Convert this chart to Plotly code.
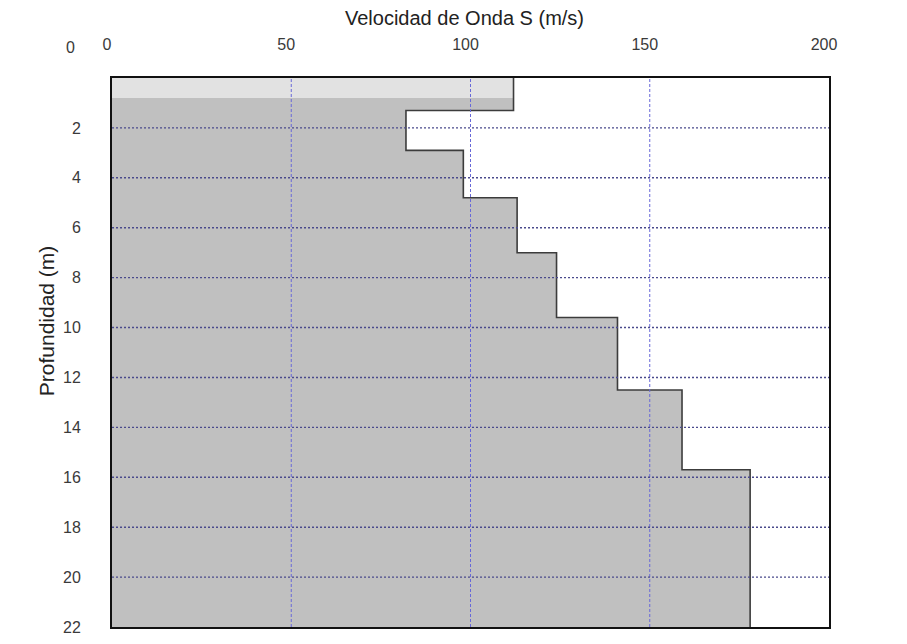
import plotly.graph_objects as go

# Perfil de velocidad de onda S por estratos
layer_top = [0.0, 1.3, 2.9, 4.8, 7.0, 9.6, 12.5, 15.7]
layer_bottom = [1.3, 2.9, 4.8, 7.0, 9.6, 12.5, 15.7, 22.0]
vs = [112, 82, 98, 113, 124, 141, 159, 178]

# Capa superficial (relleno)
fill_top = 0.0
fill_bottom = 0.8

x_ticks = [0, 50, 100, 150, 200]
y_ticks = [0, 2, 4, 6, 8, 10, 12, 14, 16, 18, 20, 22]

x_range = [0, 200]
depth_max = 22

# Contorno escalonado del perfil
step_x, step_y = [], []
for top, bot, v in zip(layer_top, layer_bottom, vs):
    step_x += [v, v]
    step_y += [top, bot]

poly_x = [0] + step_x + [0, 0]
poly_y = [layer_top[0]] + step_y + [layer_bottom[-1], layer_top[0]]

TICK_FONT = dict(family="Liberation Sans Narrow, Arial Narrow, Liberation Sans, Arial",
                 size=16, color="#3a3a3a")
TITLE_FONT = dict(family="Liberation Sans, Arial", size=20, color="#222222")

fig = go.Figure()

fig.add_trace(go.Scatter(
    x=poly_x, y=poly_y, mode="lines", fill="toself",
    fillcolor="#c0c0c0", line=dict(width=0), hoverinfo="skip", showlegend=False,
))

fig.add_trace(go.Scatter(
    x=[0, vs[0], vs[0], 0, 0],
    y=[fill_top, fill_top, fill_bottom, fill_bottom, fill_top],
    mode="lines", fill="toself", fillcolor="#e2e2e2",
    line=dict(width=0), hoverinfo="skip", showlegend=False,
))

fig.add_trace(go.Scatter(
    x=step_x, y=step_y, mode="lines",
    line=dict(color="#3c3c3c", width=1.6), hoverinfo="skip", showlegend=False,
))

# Rejilla punteada sobre el relleno
for v in x_ticks[1:-1]:
    fig.add_vline(x=v, layer="above",
                  line=dict(color="#6868d8", width=1, dash="3px,2px"))
for d in y_ticks[1:-1]:
    fig.add_hline(y=d, layer="above",
                  line=dict(color="#4a4a8c", width=1.4, dash="2px,2px"))

fig.update_xaxes(
    range=x_range, side="top", tickvals=x_ticks,
    ticktext=[str(t) for t in x_ticks],
    showgrid=False, zeroline=False, ticks="",
    showline=True, mirror=True, linecolor="#111111", linewidth=2,
    tickfont=TICK_FONT, ticklabelstandoff=20, ticklabelshift=-5,
)
fig.update_yaxes(
    range=[depth_max, 0], tickvals=y_ticks[1:],
    ticktext=[str(t) for t in y_ticks[1:]],
    showgrid=False, zeroline=False, ticks="",
    showline=True, mirror=True, linecolor="#111111", linewidth=2,
    tickfont=TICK_FONT, ticklabelstandoff=26,
)

fig.add_annotation(
    text=str(y_ticks[0]), xref="paper", yref="paper",
    x=-0.058, y=1.0556, showarrow=False, font=TICK_FONT,
    xanchor="center", yanchor="middle",
)
fig.add_annotation(
    text="Velocidad de Onda S (m/s)", xref="paper", yref="paper",
    x=0.491, y=1.109, showarrow=False, font=TITLE_FONT,
    xanchor="center", yanchor="middle",
)
fig.add_annotation(
    text="Profundidad (m)", xref="paper", yref="paper",
    x=-0.092, y=0.557, textangle=-90, showarrow=False,
    font=dict(family="Liberation Sans, Arial", size=21, color="#222222"),
    xanchor="center", yanchor="middle",
)

fig.update_layout(
    width=907, height=644,
    margin=dict(l=112, r=78, t=78, b=8),
    paper_bgcolor="white", plot_bgcolor="white",
    showlegend=False,
)

fig.write_html("out.html")
